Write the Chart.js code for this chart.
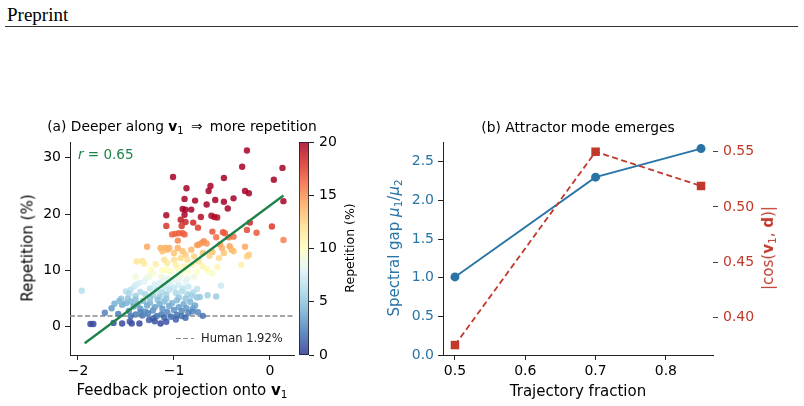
<!DOCTYPE html>
<html>
<head>
<meta charset="utf-8">
<script src="https://cdn.jsdelivr.net/npm/chart.js@4.4.1/dist/chart.umd.min.js"></script>
<style>
html, body { margin: 0; padding: 0; background: #fff; }
body { width: 804px; height: 406px; position: relative; overflow: hidden; font-family: "DejaVu Sans", sans-serif; color: #000; }
canvas { position: absolute; top: 0; }
.lbl { position: absolute; white-space: nowrap; line-height: 1; transform: translate(-50%, -50%); }
.rot { transform: translate(-50%, -50%) rotate(-90deg); }
.sub { font-size: 70%; vertical-align: -0.25em; }
.arrow { padding: 0 3px; }
#header { position: absolute; left: 7px; top: 4px; font-family: "Liberation Serif", serif; font-size: 19px; }
#rule { position: absolute; left: 5px; width: 793px; top: 26px; border-top: 1px solid #333; }
#humanDash { position: absolute; left: 176px; top: 338px; width: 18px; height: 1.3px;
  background: repeating-linear-gradient(to right, #888 0 5px, transparent 5px 7.5px); }
</style>
</head>
<body>
<div id="header">Preprint</div>
<div id="rule"></div>

<canvas id="scatterCanvas" width="300" height="406" style="left:0;width:300px;height:406px"></canvas>
<canvas id="cbarCanvas" width="60" height="406" style="left:290px;width:60px;height:406px"></canvas>
<canvas id="trajCanvas" width="424" height="406" style="left:380px;width:424px;height:406px"></canvas>

<!-- panel (a) text -->
<div class="lbl" style="left:182px;top:128px;font-size:13.8px">(a) Deeper along <b>v</b><span class="sub">1</span> <span class="arrow">&#8658;</span> more repetition</div>
<div class="lbl" style="left:78px;top:155px;transform:translateY(-50%);font-size:13.5px;color:#1e8449"><i>r</i> = 0.65</div>
<div class="lbl rot" style="left:28px;top:248px;font-size:15px">Repetition (%)</div>
<div class="lbl" style="left:182px;top:391px;font-size:15px">Feedback projection onto <b>v</b><span class="sub">1</span></div>
<div id="humanDash"></div>
<div class="lbl" style="left:201px;top:339px;transform:translateY(-50%);font-size:11.5px;color:#222">Human 1.92%</div>
<div class="lbl rot" style="left:350px;top:248px;font-size:12.5px">Repetition (%)</div>

<!-- panel (b) text -->
<div class="lbl" style="left:578px;top:128px;font-size:13.8px">(b) Attractor mode emerges</div>
<div class="lbl" style="left:578px;top:391px;font-size:15px">Trajectory fraction</div>
<div class="lbl rot" style="left:395px;top:248px;font-size:15px;color:#2874a6">Spectral gap <i>&#956;</i><span class="sub">1</span>/<i>&#956;</i><span class="sub">2</span></div>
<div class="lbl rot" style="left:769px;top:248px;font-size:15px;color:#c0392b">|cos(<b>v</b><span class="sub">1</span>, <b>d</b>)|</div>

<script>
// === DATA: panel (a) ===
const projX = [
  -0.24, -0.29, 0.13, -0.48, 0.04, -1.01, -0.87, -0.62, -0.64, -0.26, -0.22, -0.38,
  -0.89, -0.78, -0.57, -0.48, 0.14, -0.66, -0.44, -0.91, -0.88, -0.82, -0.89, -0.61,
  -0.55, -0.58, -0.72, -1.08, -0.93, -0.88, -0.80, -0.21, -1.08, -0.92, -0.75, 0.02,
  -0.60, -0.49, -0.47, -0.24, -0.14, -0.91, -0.89, -0.95, -0.99, -1.02, -0.56, -0.43,
  -0.38, 0.14, -0.69, -0.71, -0.76, -0.74, -0.96, -0.26, -0.52, -1.28, -1.09, -1.05,
  -1.14, -1.07, -1.12, -0.96, -0.91, -1.00, -0.88, -0.82, -0.79, -0.70, -0.66, -0.93,
  -1.00, -0.86, -0.50, -0.42, -0.40, -0.38, -0.48, -0.24, -0.22, -0.53, -0.30, -0.60,
  -0.63,
  -1.39, -1.33, -1.31, -1.19, -1.24, -1.22, -1.10, -1.07, -1.12, -1.07, -1.03, -0.96,
  -0.89, -0.86, -0.81, -0.76, -0.70, -0.64, -0.60, -0.66, -0.79, -0.86, -0.93, -1.13,
  -1.07, -1.40, -0.98, -0.74, -0.55,
  -1.96, -1.41, -1.45, -1.50, -1.36, -1.39, -1.29, -1.26, -1.31, -0.51, -0.56, -0.65,
  -0.73, -0.76, -1.20, -1.15, -1.10, -1.05, -1.00, -0.95, -0.90, -0.85, -1.25, -1.18,
  -1.12, -1.05, -0.98, -0.92, -0.86, -0.80, -1.35, -1.30, -1.22, -1.15, -1.08, -1.40,
  -1.47, -1.55, -0.95, -0.88, -0.82, -1.00, -0.95, -1.10, -0.88, -0.76,
  -1.72, -1.65, -1.58, -1.54, -0.70, -0.80, -0.81, -1.50, -1.45, -1.42, -1.38, -1.35,
  -1.32, -1.28, -1.25, -1.22, -1.20, -1.17, -1.15, -1.12, -1.10, -1.07, -1.05, -1.02,
  -1.00, -0.97, -0.95, -0.92, -0.90, -0.87, -0.85, -0.83, -0.78, -0.75, -1.40, -1.33,
  -1.27, -1.18, -1.13, -1.03, -0.97, -0.92, -1.47, -1.30, -1.45, -1.62, -1.57, -1.48,
  -1.40, -1.25, -1.08, -1.35, -1.22, -1.10, -0.88,
  -1.87, -1.84, -1.63, -1.54, -1.44, -1.36, -1.14, -1.08, -1.26, -1.20, -0.98, -1.46
];
const repPct = [
  31.3, 28.4, 28.2, 26.4, 26.1, 26.6, 24.6, 25.0, 24.1, 24.1, 23.7, 22.8,
  22.7, 22.4, 22.5, 22.2, 22.3, 21.7, 21.0, 20.9, 20.8, 20.8, 19.9, 19.7,
  19.4, 19.5, 19.5, 19.8, 19.0, 18.6, 18.5, 18.5, 17.9, 17.9, 17.6, 17.8,
  16.9, 16.8, 16.6, 17.2, 16.7, 16.6, 16.4, 16.6, 16.5, 16.4, 15.9, 15.9,
  16.0, 15.4, 15.2, 14.9, 14.5, 14.6, 15.3, 14.2, 14.6, 14.2, 14.0, 14.0,
  14.0, 13.7, 13.4, 14.0, 13.4, 13.1, 12.8, 13.7, 12.5, 13.1, 14.8, 12.2,
  11.9, 11.9, 14.0, 14.3, 13.7, 13.4, 13.1, 12.5, 12.8, 12.2, 11.0, 13.3,
  12.6,
  11.6, 11.7, 11.2, 11.1, 10.1, 9.5, 11.9, 11.3, 10.1, 10.1, 9.8, 10.4,
  10.7, 9.8, 11.0, 9.8, 10.7, 9.8, 9.5, 10.3, 8.9, 8.6, 9.2, 8.9,
  8.6, 8.9, 11.0, 11.6, 10.6,
  6.4, 7.2, 6.6, 6.3, 7.8, 7.5, 8.6, 8.9, 8.0, 7.3, 5.4, 5.6,
  5.3, 6.7, 7.5, 7.8, 7.2, 7.6, 7.0, 7.4, 6.8, 7.1, 6.8, 6.5,
  6.2, 6.6, 6.0, 6.3, 5.8, 6.1, 6.2, 5.8, 5.6, 5.4, 5.7, 5.5,
  5.9, 5.0, 5.2, 5.0, 5.5, 8.2, 8.5, 8.3, 8.0, 5.2,
  2.5, 3.3, 2.3, 3.9, 1.95, 3.3, 2.7, 4.2, 4.5, 3.6, 4.0, 3.2,
  4.6, 3.8, 4.3, 2.9, 3.5, 4.8, 4.0, 3.2, 4.5, 2.6, 3.7, 4.2,
  3.0, 4.7, 3.5, 2.8, 4.0, 3.3, 2.5, 4.4, 3.8, 2.6, 2.2, 2.0,
  2.4, 1.9, 2.2, 1.8, 2.1, 1.9, 2.8, 2.7, 1.9, 4.1, 4.6, 5.0,
  4.8, 5.1, 5.0, 2.6, 1.5, 1.6, 1.6,
  0.5, 0.5, 0.7, 0.6, 0.6, 0.6, 0.6, 0.9, 1.2, 1.0, 1.3, 0.95
];
const fitX = [-1.93, 0.14];
const fitY = [-2.9, 23.3];
const humanRate = 1.92;
const xTicksA = [-2, -1, 0];
const yTicksA = [0, 10, 20, 30];
const cbarTicks = [0, 5, 10, 15, 20];

// === DATA: panel (b) ===
const fracX = [0.5, 0.7, 0.85];
const gapVals = [1.01, 2.30, 2.67];
const cosVals = [0.375, 0.550, 0.519];
const xTicksB = [0.5, 0.6, 0.7, 0.8];
const gapTicks = [0, 0.5, 1.0, 1.5, 2.0, 2.5];
const cosTicks = [0.40, 0.45, 0.50, 0.55];

// === STYLE ===
const green = "#1e8449";
const blue = "#2874a6";
const red = "#c0392b";
const spine = "#222";
// RdYlBu_r
const cmapStops = [
  [49, 54, 149], [69, 117, 180], [116, 173, 209], [171, 217, 233], [224, 243, 248],
  [255, 255, 191], [254, 224, 144], [253, 174, 97], [244, 109, 67], [215, 48, 39], [165, 0, 38]
];
const cbMin = 0, cbMax = 20;

function cmap(v, alpha) {
  let t = (Math.min(cbMax, Math.max(cbMin, v)) - cbMin) / (cbMax - cbMin);
  const pos = t * (cmapStops.length - 1);
  const i = Math.min(cmapStops.length - 2, Math.floor(pos));
  const f = pos - i;
  const c = cmapStops[i].map((a, k) => Math.round(a + (cmapStops[i + 1][k] - a) * f));
  return `rgba(${c[0]},${c[1]},${c[2]},${alpha})`;
}

const fmtMinus = v => (v < 0 ? "\u2212" + Math.abs(v) : String(v));

Chart.defaults.font.family = "'DejaVu Sans', sans-serif";
Chart.defaults.font.size = 14;
Chart.defaults.color = "#000";

function axisBase(tickColor) {
  return {
    grid: { display: true, drawOnChartArea: false, drawTicks: true, tickLength: 5, tickColor: tickColor, tickWidth: 1 },
    border: { display: true, color: spine, width: 1 }
  };
}

const common = {
  responsive: false,
  animation: false,
  devicePixelRatio: 1,
  events: [],
  plugins: { legend: { display: false }, tooltip: { enabled: false }, title: { display: false } }
};

// === CHART (a) ===
new Chart(document.getElementById("scatterCanvas"), {
  type: "scatter",
  data: {
    datasets: [
      {
        data: fitX.map((x, i) => ({ x, y: fitY[i] })),
        type: "line", borderColor: green, borderWidth: 2.4, pointRadius: 0, order: 0
      },
      {
        data: projX.map((x, i) => ({ x, y: repPct[i] })),
        backgroundColor: repPct.map(v => cmap(v, 0.85)),
        pointRadius: 3.2, borderWidth: 0, order: 1
      },
      {
        data: [{ x: -2.083, y: humanRate }, { x: 0.25, y: humanRate }],
        type: "line", borderColor: "#888", borderWidth: 1.3, borderDash: [5, 2.5], pointRadius: 0, order: 2
      }
    ]
  },
  options: {
    ...common,
    layout: { padding: { left: 0, right: 6, top: 142, bottom: 0 } },
    scales: {
      x: {
        type: "linear", min: -2.083, max: 0.25,
        ...axisBase(spine),
        afterBuildTicks: s => { s.ticks = xTicksA.map(v => ({ value: v })); },
        afterFit: s => { s.height = 51; },
        ticks: { padding: 3, maxRotation: 0, callback: v => fmtMinus(v) }
      },
      y: {
        type: "linear", min: -5, max: 32.8,
        ...axisBase(spine),
        afterBuildTicks: s => { s.ticks = yTicksA.map(v => ({ value: v })); },
        afterFit: s => { s.width = 70; },
        ticks: { padding: 4, callback: v => fmtMinus(v) }
      }
    }
  }
});

// === COLORBAR ===
const colorbarFill = {
  id: "colorbarFill",
  beforeDatasetsDraw(chart) {
    const { ctx, chartArea: a, scales: { y } } = chart;
    const g = ctx.createLinearGradient(0, y.getPixelForValue(cbMin), 0, y.getPixelForValue(cbMax));
    cmapStops.forEach((c, i) => g.addColorStop(i / (cmapStops.length - 1), `rgba(${c[0]},${c[1]},${c[2]},0.85)`));
    ctx.save();
    ctx.fillStyle = g;
    ctx.fillRect(a.left, a.top, a.right - a.left, a.bottom - a.top);
    ctx.strokeStyle = spine;
    ctx.lineWidth = 0.8;
    ctx.strokeRect(a.left + 0.5, a.top + 0.5, a.right - a.left - 1, a.bottom - a.top - 1);
    ctx.restore();
  }
};

new Chart(document.getElementById("cbarCanvas"), {
  type: "bar",
  data: { labels: [""], datasets: [] },
  options: {
    ...common,
    layout: { padding: { left: 9, right: 0, top: 142, bottom: 51 } },
    scales: {
      x: { display: false },
      y: {
        type: "linear", position: "right", min: cbMin, max: cbMax,
        grid: { display: true, drawOnChartArea: false, drawTicks: true, tickLength: 5, tickColor: spine, tickWidth: 1 },
        border: { display: false },
        afterBuildTicks: s => { s.ticks = cbarTicks.map(v => ({ value: v })); },
        afterFit: s => { s.width = 41; },
        ticks: { padding: 5 }
      }
    }
  },
  plugins: [colorbarFill]
});

// === CHART (b) ===
new Chart(document.getElementById("trajCanvas"), {
  type: "line",
  data: {
    datasets: [
      {
        data: fracX.map((x, i) => ({ x, y: cosVals[i] })),
        yAxisID: "y1", borderColor: red, backgroundColor: red, borderWidth: 1.8,
        borderDash: [6, 3.5], pointStyle: "rect", pointRadius: 6, pointBorderWidth: 0, order: 0
      },
      {
        data: fracX.map((x, i) => ({ x, y: gapVals[i] })),
        yAxisID: "y", borderColor: blue, backgroundColor: blue, borderWidth: 1.8,
        pointStyle: "circle", pointRadius: 4.5, pointBorderWidth: 0, order: 1
      }
    ]
  },
  options: {
    ...common,
    layout: { padding: { left: 0, right: 0, top: 142, bottom: 0 } },
    scales: {
      x: {
        type: "linear", min: 0.483, max: 0.867,
        ...axisBase(spine),
        afterBuildTicks: s => { s.ticks = xTicksB.map(v => ({ value: v })); },
        afterFit: s => { s.height = 51; },
        ticks: { padding: 3, maxRotation: 0, callback: v => v.toFixed(1) }
      },
      y: {
        type: "linear", position: "left", min: 0, max: 2.755,
        ...axisBase(spine),
        afterBuildTicks: s => { s.ticks = gapTicks.map(v => ({ value: v })); },
        afterFit: s => { s.width = 63; },
        ticks: { padding: 4, color: blue, callback: v => v.toFixed(1) }
      },
      y1: {
        type: "linear", position: "right", min: 0.366, max: 0.5588,
        grid: { display: true, drawOnChartArea: false, drawTicks: true, tickLength: 5, tickColor: "#444", tickWidth: 1 },
        border: { display: false },
        afterBuildTicks: s => { s.ticks = cosTicks.map(v => ({ value: v })); },
        afterFit: s => { s.width = 91; },
        ticks: { padding: 5, color: red, callback: v => v.toFixed(2) }
      }
    }
  }
});
</script>
</body>
</html>
